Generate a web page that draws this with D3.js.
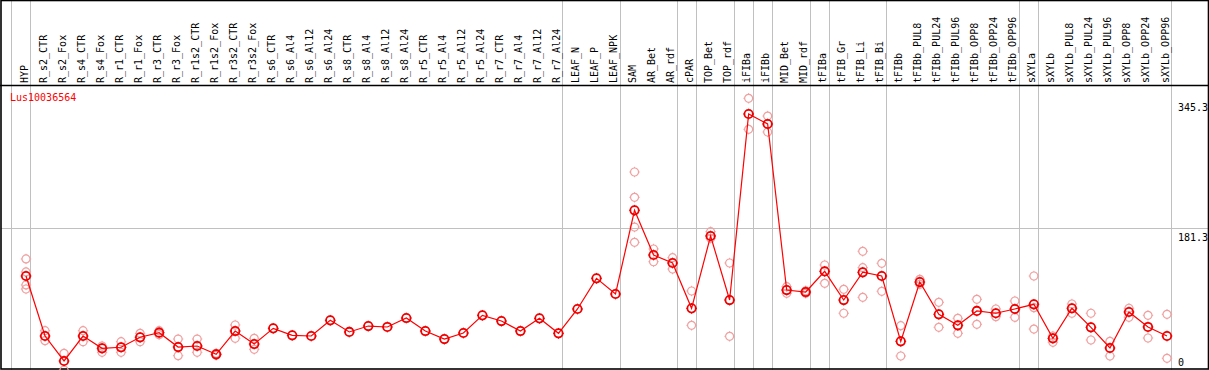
<!DOCTYPE html>
<html>
<head>
<meta charset="utf-8">
<script src="https://cdn.jsdelivr.net/npm/d3@7"></script>
<style>
  body { margin: 0; background: #fff; }
  svg text { font-family: "DejaVu Sans Mono", monospace; font-size: 10px; }
</style>
</head>
<body>
<svg id="chart" width="1209" height="370"></svg>
<script>
var geneName = "Lus10036564";

var categories = [
  "HYP", "R_s2_CTR", "R_s2_Fox", "R_s4_CTR", "R_s4_Fox", "R_r1_CTR", "R_r1_Fox",
  "R_r3_CTR", "R_r3_Fox", "R_r1s2_CTR", "R_r1s2_Fox", "R_r3s2_CTR", "R_r3s2_Fox",
  "R_s6_CTR", "R_s6_Al4", "R_s6_Al12", "R_s6_Al24", "R_s8_CTR", "R_s8_Al4",
  "R_s8_Al12", "R_s8_Al24", "R_r5_CTR", "R_r5_Al4", "R_r5_Al12", "R_r5_Al24",
  "R_r7_CTR", "R_r7_Al4", "R_r7_Al12", "R_r7_Al24", "LEAF_N", "LEAF_P", "LEAF_NPK",
  "SAM", "AR_Bet", "AR_rdf", "cPAR", "TOP_Bet", "TOP_rdf", "iFIBa", "iFIBb",
  "MID_Bet", "MID_rdf", "tFIBa", "tFIB_Gr", "tFIB_Li", "tFIB_Bi", "tFIBb",
  "tFIBb_PUL8", "tFIBb_PUL24", "tFIBb_PUL96", "tFIBb_OPP8", "tFIBb_OPP24", "tFIBb_OPP96",
  "sXYLa", "sXYLb", "sXYLb_PUL8", "sXYLb_PUL24", "sXYLb_PUL96", "sXYLb_OPP8",
  "sXYLb_OPP24", "sXYLb_OPP96"
];

// number of samples in each tissue group (separated by grey lines)
var groupSizes = [1, 28, 3, 3, 1, 2, 1, 1, 2, 1, 3, 7, 1, 7];

// mean expression per sample
var means = [
  121.1, 45.4, 13.9, 45.4, 29.9, 31.2, 43.8, 49.6, 31.5, 32.8, 22.3, 51.7, 35.3,
  55.1, 46.3, 45.4, 65.2, 50.5, 58.0, 56.8, 68.1, 51.7, 41.6, 49.2, 71.5,
  64.3, 51.7, 67.7, 48.8, 79.5, 118.2, 98.4,
  204.0, 147.6, 137.5, 80.3, 171.6, 90.8, 325.5, 312.9,
  103.4, 100.9, 127.0, 90.8, 125.8, 121.1, 38.7,
  113.5, 72.8, 58.9, 77.0, 74.1, 79.5,
  85.4, 42.5, 80.4, 56.4, 30.3, 75.7, 56.8, 45.4
];

// individual replicates (empty where only the mean is shown)
var replicates = [
  [142.6, 126.2, 109.8, 104.7], [52.1, 39.5], [23.6, 2.5], [52.1, 38.2], [32.8, 24.8],
  [38.2, 24.8], [48.8, 38.2], [52.1, 47.1], [41.6, 20.6], [41.6, 24.8], [23.6, 21.0],
  [59.3, 42.5], [42.5, 28.6],
  [], [], [], [], [], [], [], [], [], [], [], [], [], [], [], [], [], [], [],
  [252.3, 220.4, 182.9, 163.6], [155.2, 139.1], [144.2, 129.9], [102.2, 58.9],
  [177.0, 168.7], [137.5, 45.0], [345.3, 306.2], [322.9, 302.8],
  [107.6, 99.3], [102.5, 99.3], [135.0, 111.9], [104.3, 74.1], [152.3, 131.6, 94.2],
  [137.1, 101.8], [58.4, 20.2],
  [116.9, 110.6], [87.9, 56.4], [67.7, 48.8], [91.7, 60.2], [79.5, 69.8], [89.6, 69.0],
  [121.1, 81.1, 54.2], [45.4, 37.5], [85.8, 74.1], [74.1, 40.4], [38.7, 20.2],
  [80.4, 69.0], [71.5, 42.9], [72.8, 17.3]
];

// value labels on the right
var yLabels = [345.3, 181.3, 0];
var refLine = 181.3;

var svg = d3.select("#chart");
var W = 1209, H = 370;

var x = d3.scalePoint().domain(categories).range([26, 1167]);
var step = x.step();
var y = d3.scaleLinear().domain([0, 345.3]).range([372, 98.3]);

// group separators
var sepX = [x(categories[0]) - step + 4];
var idx = 0;
groupSizes.forEach(function(n) {
  idx += n;
  sepX.push(x(categories[idx - 1]) + 4);
});

svg.selectAll(".sep")
  .data(sepX)
  .enter().append("line")
  .attr("class", "sep")
  .attr("x1", function(d) { return Math.round(d) + 0.5; })
  .attr("x2", function(d) { return Math.round(d) + 0.5; })
  .attr("y1", 0)
  .attr("y2", H)
  .attr("stroke", "#c0c0c0")
  .attr("stroke-width", 1);

// reference line
svg.append("line")
  .attr("x1", 1).attr("x2", W - 1)
  .attr("y1", Math.round(y(refLine)) + 0.5)
  .attr("y2", Math.round(y(refLine)) + 0.5)
  .attr("stroke", "#c0c0c0");

// header separator and frame
svg.append("line")
  .attr("x1", 0).attr("x2", W)
  .attr("y1", 85.5).attr("y2", 85.5)
  .attr("stroke", "#000").attr("stroke-width", 1.5);

svg.append("rect")
  .attr("x", 1).attr("y", 0.5)
  .attr("width", W - 1.5).attr("height", H - 1.5)
  .attr("fill", "none")
  .attr("stroke", "#000")
  .attr("stroke-width", 1.6);

// rotated sample names
svg.selectAll(".cat")
  .data(categories)
  .enter().append("text")
  .attr("class", "cat")
  .attr("text-anchor", "start")
  .attr("transform", function(d) {
    return "translate(" + (x(d) + 1.5) + ",83) rotate(-90)";
  })
  .attr("fill", "#000")
  .text(function(d) { return d; });

// gene name
svg.append("text")
  .attr("x", 10).attr("y", 100.5)
  .attr("fill", "#ff0000")
  .text(geneName);

// value labels
svg.selectAll(".ylab")
  .data(yLabels)
  .enter().append("text")
  .attr("class", "ylab")
  .attr("x", 1178)
  .attr("y", function(d) { return d === 0 ? 366 : y(d) + 12.5; })
  .attr("fill", "#000")
  .text(function(d) { return d; });

var marker = function(sel, r, color, width) {
  sel.append("circle")
    .attr("r", r)
    .attr("fill", "none")
    .attr("stroke", color)
    .attr("stroke-width", width);
  sel.append("path")
    .attr("d", "M0," + (-r - 1.2) + "V" + (-r) + "M0," + r + "V" + (r + 1.2) +
               "M" + (-r - 1.2) + ",0H" + (-r) + "M" + r + ",0H" + (r + 1.2))
    .attr("stroke", color)
    .attr("stroke-width", 1);
};

// replicates
var repPts = [];
replicates.forEach(function(reps, i) {
  reps.forEach(function(v) { repPts.push({ cat: categories[i], v: v }); });
});

svg.selectAll(".rep")
  .data(repPts)
  .enter().append("g")
  .attr("class", "rep")
  .attr("transform", function(d) { return "translate(" + x(d.cat) + "," + y(d.v) + ")"; })
  .call(marker, 4, "#f0a0a0", 1.2);

// mean line
var line = d3.line()
  .x(function(d, i) { return x(categories[i]); })
  .y(function(d) { return y(d); });

svg.append("path")
  .datum(means)
  .attr("d", line)
  .attr("fill", "none")
  .attr("stroke", "#ff0000")
  .attr("stroke-width", 1.2);

svg.selectAll(".mean")
  .data(means)
  .enter().append("g")
  .attr("class", "mean")
  .attr("transform", function(d, i) { return "translate(" + x(categories[i]) + "," + y(d) + ")"; })
  .call(marker, 4.2, "#ee0000", 1.8);
</script>
</body>
</html>
